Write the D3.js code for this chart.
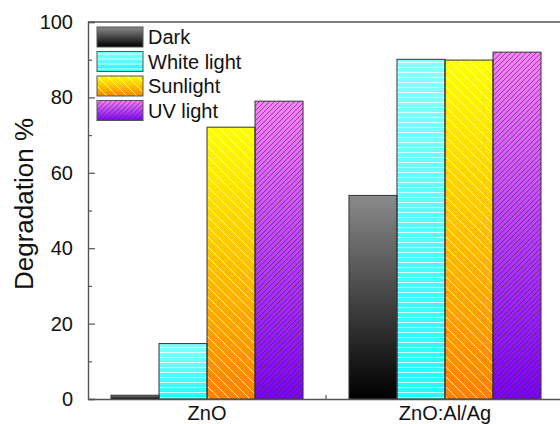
<!DOCTYPE html>
<html>
<head>
<meta charset="utf-8">
<script src="https://cdn.jsdelivr.net/npm/d3@7"></script>
<style>
html,body{margin:0;padding:0;background:#fff;}
svg{display:block;font-family:"Liberation Sans",Arial,sans-serif;}
</style>
</head>
<body>
<svg id="chart" width="560" height="424"></svg>
<script>
const categories = ["ZnO", "ZnO:Al/Ag"];
const series = ["Dark", "White light", "Sunlight", "UV light"];
const darkValues = [1.0, 54.0];
const whiteValues = [14.7, 90.1];
const sunValues = [72.1, 89.9];
const uvValues = [79.0, 92.0];
const yTicks = [0, 20, 40, 60, 80, 100];
const yMinorTicks = [10, 30, 50, 70, 90];

(function () {
const valuesBySeries = [darkValues, whiteValues, sunValues, uvValues];
const data = categories.map((c, i) => ({category: c, values: series.map((s, j) => ({series: s, idx: j, value: valuesBySeries[j][i]}))}));

const svg = d3.select("#chart");
const mLeft = 88, mTop = 22, mBottom = 399, rightExt = 564;
const axisColor = "#555";

const y = d3.scaleLinear().domain([0, 100]).range([mBottom, mTop]);
const x0 = d3.scaleBand().domain(categories).range([mLeft, rightExt]).paddingInner(0.193).paddingOuter(0.0966);
const x1 = d3.scaleBand().domain(series).range([0, x0.bandwidth()]);

const defs = svg.append("defs");
const grads = [
  {id: "g0", stops: [["0%", "#8a8a8a"], ["100%", "#000000"]]},
  {id: "g1", stops: [["0%", "#88ffff"], ["100%", "#22fafa"]]},
  {id: "g2", stops: [["0%", "#ffff00"], ["100%", "#ff8000"]]},
  {id: "g3", stops: [["0%", "#ff80ff"], ["100%", "#7f00ff"]]}
];
grads.forEach(g => {
  const lg = defs.append("linearGradient").attr("id", g.id).attr("x1", 0).attr("y1", 0).attr("x2", 0).attr("y2", 1);
  g.stops.forEach(s => lg.append("stop").attr("offset", s[0]).attr("stop-color", s[1]));
});
const p1 = defs.append("pattern").attr("id", "p1").attr("patternUnits", "userSpaceOnUse").attr("width", 10).attr("height", 5);
p1.append("line").attr("x1", 0).attr("x2", 10).attr("y1", 2.5).attr("y2", 2.5).attr("stroke", "#fff").attr("stroke-width", 0.9).attr("stroke-opacity", 0.85);
const p2 = defs.append("pattern").attr("id", "p2").attr("patternUnits", "userSpaceOnUse").attr("width", 10).attr("height", 10);
p2.append("path").attr("d", "M-2,-2 L12,12 M-2,8 L2,12 M8,-2 L12,2").attr("stroke", "#fff").attr("stroke-width", 1).attr("stroke-opacity", 0.8);
const p3 = defs.append("pattern").attr("id", "p3").attr("patternUnits", "userSpaceOnUse").attr("width", 5).attr("height", 5);
p3.append("path").attr("d", "M-1,6 L6,-1 M-1,1 L1,-1 M4,6 L6,4").attr("stroke", "#333").attr("stroke-width", 0.8).attr("stroke-opacity", 0.8);
const patterns = [null, "p1", "p2", "p3"];

svg.append("line").attr("x1", mLeft).attr("x2", rightExt).attr("y1", mTop).attr("y2", mTop).attr("stroke", axisColor).attr("stroke-width", 1.4);

const yAxis = d3.axisLeft(y).tickValues(yTicks).tickSize(-7).tickPadding(15).tickFormat(d3.format("d"));
const gy = svg.append("g").attr("transform", `translate(${mLeft},0)`).call(yAxis);
gy.select(".domain").attr("stroke", axisColor).attr("stroke-width", 1.4);
gy.selectAll(".tick line").attr("stroke", axisColor).attr("stroke-width", 1.2);
gy.selectAll(".tick text").attr("font-size", 20).attr("fill", "#111").attr("font-family", "Liberation Sans, Arial, sans-serif");

const yMinor = d3.axisLeft(y).tickValues(yMinorTicks).tickSize(-4).tickFormat("");
const gym = svg.append("g").attr("transform", `translate(${mLeft},0)`).call(yMinor);
gym.select(".domain").remove();
gym.selectAll(".tick line").attr("stroke", axisColor).attr("stroke-width", 1.2);

const groups = svg.append("g").selectAll("g").data(data).join("g").attr("transform", d => `translate(${x0(d.category)},0)`);
groups.selectAll("rect.fill").data(d => d.values).join("rect")
  .attr("class", "fill")
  .attr("x", d => x1(d.series)).attr("width", x1.bandwidth())
  .attr("y", d => y(d.value)).attr("height", d => y(0) - y(d.value))
  .attr("fill", d => `url(#g${d.idx})`);
groups.selectAll("rect.pat").data(d => d.values.filter(v => patterns[v.idx])).join("rect")
  .attr("class", "pat")
  .attr("x", d => x1(d.series)).attr("width", x1.bandwidth())
  .attr("y", d => y(d.value)).attr("height", d => y(0) - y(d.value))
  .attr("fill", d => `url(#${patterns[d.idx]})`);
groups.selectAll("rect.edge").data(d => d.values).join("rect")
  .attr("class", "edge")
  .attr("x", d => x1(d.series)).attr("width", x1.bandwidth())
  .attr("y", d => y(d.value)).attr("height", d => y(0) - y(d.value))
  .attr("fill", "none").attr("stroke", "#333").attr("stroke-width", 1);

const xAxis = d3.axisBottom(x0).tickSize(0).tickPadding(7);
const gx = svg.append("g").attr("transform", `translate(0,${mBottom})`).call(xAxis);
gx.select(".domain").attr("stroke", axisColor).attr("stroke-width", 1.4);
gx.selectAll(".tick text").attr("font-size", 20).attr("fill", "#111").attr("dy", "0.71em").attr("font-family", "Liberation Sans, Arial, sans-serif");
const midX = (x0(categories[0]) + x0.bandwidth() + x0(categories[1])) / 2;
svg.append("line").attr("x1", midX).attr("x2", midX).attr("y1", mBottom).attr("y2", mBottom - 4).attr("stroke", axisColor).attr("stroke-width", 1.2);

svg.append("text").attr("transform", `translate(33,204) rotate(-90)`).attr("text-anchor", "middle")
  .attr("font-size", 26).attr("fill", "#111").text("Degradation %");

const legend = svg.append("g").attr("transform", "translate(97,27)");
const li = legend.selectAll("g").data(series).join("g").attr("transform", (d, i) => `translate(0,${i * 24.5})`);
li.append("rect").attr("width", 46).attr("height", 20).attr("fill", (d, i) => `url(#g${i})`);
li.filter((d, i) => patterns[i]).append("rect").attr("width", 46).attr("height", 20).attr("fill", d => `url(#${patterns[series.indexOf(d)]})`);
li.append("rect").attr("width", 46).attr("height", 20).attr("fill", "none").attr("stroke", "#555").attr("stroke-width", 1);
li.append("text").attr("x", 51).attr("y", 10).attr("dy", "0.36em").attr("font-size", 20).attr("fill", "#111").text(d => d);
})();
</script>
</body>
</html>
